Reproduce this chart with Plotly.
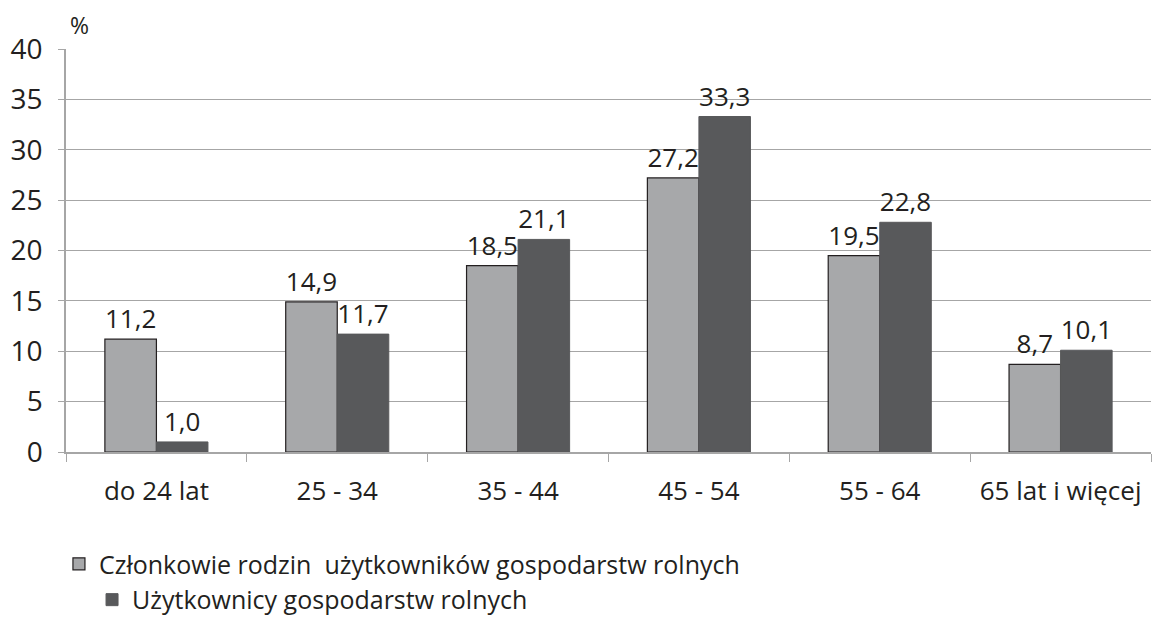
import plotly.graph_objects as go

categories = ["do 24 lat", "25 - 34", "35 - 44", "45 - 54", "55 - 64", "65 lat i więcej"]
czlonkowie = [11.2, 14.9, 18.5, 27.2, 19.5, 8.7]
uzytkownicy = [1.0, 11.7, 21.1, 33.3, 22.8, 10.1]
y_ticks = [0, 5, 10, 15, 20, 25, 30, 35, 40]

FONT = "'Open Sans', Lato, sans-serif"
TXT = "#231f20"

fig = go.Figure()
fig.add_trace(go.Bar(
    x=categories, y=czlonkowie,
    name="Członkowie rodzin  użytkowników gospodarstw rolnych",
    marker=dict(color="#a7a8aa", line=dict(color="#231f20", width=1.2)),
    texttemplate="%{y:.1f}", textposition="outside",
    textfont=dict(size=26, color=TXT, family=FONT),
    cliponaxis=False, legend="legend",
))
fig.add_trace(go.Bar(
    x=categories, y=uzytkownicy,
    name="Użytkownicy gospodarstw rolnych",
    marker=dict(color="#58595b", line=dict(color="#58595b", width=1)),
    texttemplate="%{y:.1f}", textposition="outside",
    textfont=dict(size=26, color=TXT, family=FONT),
    cliponaxis=False, legend="legend2",
))

fig.update_layout(
    width=1159, height=619,
    paper_bgcolor="white", plot_bgcolor="white",
    margin=dict(l=66, r=8, t=49, b=167, autoexpand=False),
    barmode="group", bargap=0.43, bargroupgap=0,
    separators=", ",
    font=dict(family=FONT, color=TXT, size=24),
    legend=dict(x=-0.0065, y=-0.278, xanchor="left", yanchor="middle",
                xref="paper", yref="paper",
                font=dict(size=25, color=TXT, family=FONT), bgcolor="rgba(0,0,0,0)",
                itemwidth=30),
    legend2=dict(x=0.024, y=-0.367, xanchor="left", yanchor="middle",
                 xref="paper", yref="paper",
                 font=dict(size=25, color=TXT, family=FONT), bgcolor="rgba(0,0,0,0)",
                 itemwidth=30),
    showlegend=True,
    annotations=[dict(text="%", x=0.002, y=1.0, xref="paper", yref="paper",
                      xanchor="left", yanchor="bottom", showarrow=False,
                      yshift=6, font=dict(size=23, color=TXT, family=FONT))],
)
fig.update_yaxes(
    range=[0, 40], tickvals=y_ticks, showgrid=True, gridcolor="#a6a6a6", gridwidth=1,
    showline=True, linecolor="#a6a6a6", linewidth=1.5,
    ticks="outside", ticklen=6, tickcolor="#a6a6a6", ticklabelstandoff=10,
    tickfont=dict(size=28, color=TXT, family=FONT), zeroline=False,
)
fig.update_xaxes(
    showline=True, linecolor="#a6a6a6", linewidth=1.5,
    ticks="outside", ticklen=8, tickcolor="#a6a6a6", tickson="boundaries",
    ticklabelstandoff=15,
    tickfont=dict(size=26, color=TXT, family=FONT),
)

fig.write_html("out.html", config={"displayModeBar": False},
               post_script="document.body.style.margin='0';")
